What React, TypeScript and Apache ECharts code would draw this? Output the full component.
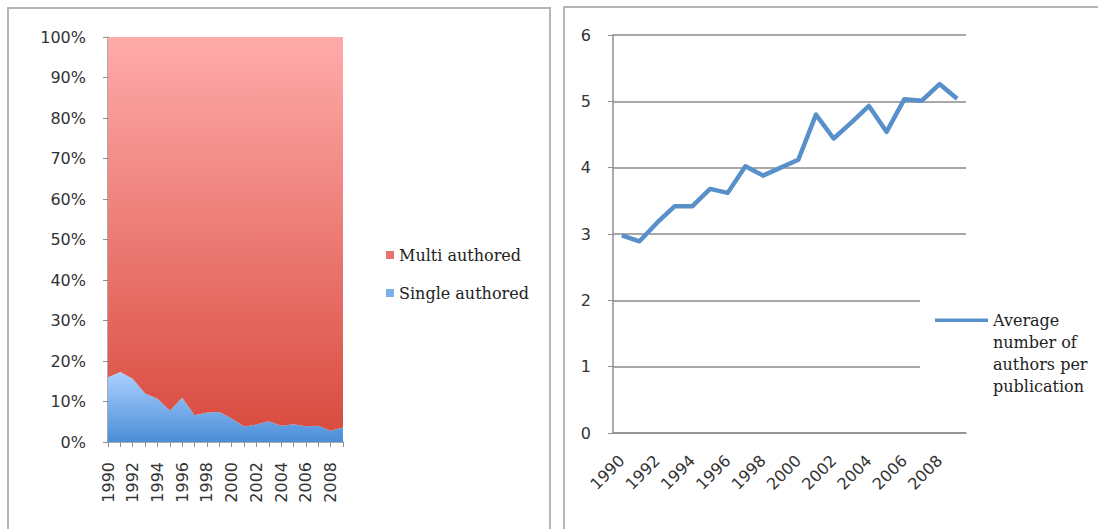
import React, { useEffect, useRef } from "react";
import * as echarts from "echarts";

// Publication years
const years = [
  "1990", "1991", "1992", "1993", "1994", "1995", "1996", "1997", "1998", "1999",
  "2000", "2001", "2002", "2003", "2004", "2005", "2006", "2007", "2008", "2009",
];

// Share of single-authored publications (%)
const singleAuthored = [
  16.0, 17.3, 15.6, 12.0, 10.7, 7.8, 10.9, 6.6, 7.3, 7.4,
  5.8, 3.8, 4.3, 5.1, 4.0, 4.4, 3.9, 4.0, 2.8, 3.6,
];

// Share of multi-authored publications (%)
const multiAuthored = [
  84.0, 82.7, 84.4, 88.0, 89.3, 92.2, 89.1, 93.4, 92.7, 92.6,
  94.2, 96.2, 95.7, 94.9, 96.0, 95.6, 96.1, 96.0, 97.2, 96.4,
];

// Average number of authors per publication
const avgAuthors = [
  2.98, 2.89, 3.17, 3.42, 3.42, 3.68, 3.62, 4.02, 3.88, 4.0,
  4.12, 4.8, 4.44, 4.68, 4.93, 4.54, 5.03, 5.01, 5.26, 5.04,
];

const axisGray = "#8f8f8f";
const gridGray = "#a8a8a8";
const lineBlue = "#5890c9";
const labelFont = "DejaVu Sans";
const legendFont = "DejaVu Serif";

// Legend swatch: a thin bar at the top of a taller box, so the first text line sits beside it
const legendLineIcon = "path://M0,0 L53,0 L53,3.5 L0,3.5 Z M0,69 L0.01,69";

export default function App() {
  const ref = useRef<HTMLDivElement>(null);

  useEffect(() => {
    if (!ref.current) return;
    const chart = echarts.init(ref.current, null, { renderer: "svg" });

    const grad = (top: string, bottom: string) =>
      new echarts.graphic.LinearGradient(0, 0, 0, 1, [
        { offset: 0, color: top },
        { offset: 1, color: bottom },
      ]);

    chart.setOption({
      animation: false,
      backgroundColor: "#ffffff",
      graphic: [
        {
          type: "rect",
          shape: { x: 8, y: 8, width: 542, height: 540 },
          style: { fill: "none", stroke: "#b5b5b5", lineWidth: 2 },
          z: -10,
        },
        {
          type: "rect",
          shape: { x: 564, y: 7, width: 560, height: 540 },
          style: { fill: "none", stroke: "#b5b5b5", lineWidth: 2 },
          z: -10,
        },
      ],
      legend: [
        {
          orient: "vertical",
          left: 386,
          top: 247,
          padding: 0,
          itemWidth: 8,
          itemHeight: 8,
          itemGap: 22,
          icon: "rect",
          textStyle: { fontFamily: legendFont, fontSize: 16, color: "#222" },
          data: [
            { name: "Multi authored", itemStyle: { color: "#e8736c" } },
            { name: "Single authored", itemStyle: { color: "#7eb1ec" } },
          ],
        },
        {
          orient: "vertical",
          left: 920,
          top: 296,
          padding: [13, 15, 0, 15],
          backgroundColor: "#ffffff",
          itemWidth: 53,
          itemHeight: 69,
          icon: legendLineIcon,
          symbolKeepAspect: false,
          itemStyle: { color: lineBlue, borderWidth: 0 },
          data: ["Average number of authors per publication"],
          formatter: () => "Average\nnumber of\nauthors per\npublication",
          textStyle: {
            fontFamily: legendFont,
            fontSize: 16,
            lineHeight: 22,
            color: "#222",
          },
        },
      ],
      grid: [
        { left: 108, top: 37, width: 235, height: 405 },
        { left: 613, top: 35, width: 353, height: 398 },
      ],
      xAxis: [
        {
          type: "category",
          gridIndex: 0,
          data: years,
          boundaryGap: false,
          axisLine: { lineStyle: { color: axisGray, width: 1.5 } },
          axisTick: { interval: 0, length: 5, lineStyle: { color: axisGray } },
          axisLabel: {
            interval: 1,
            rotate: 90,
            margin: 20,
            fontFamily: labelFont,
            fontSize: 16,
            color: "#333",
          },
        },
        {
          type: "category",
          gridIndex: 1,
          data: years,
          boundaryGap: true,
          axisLine: { lineStyle: { color: axisGray, width: 1.5 } },
          axisTick: { interval: 0, length: 5, lineStyle: { color: axisGray } },
          axisLabel: {
            interval: 1,
            rotate: 45,
            margin: 25,
            fontFamily: labelFont,
            fontSize: 16,
            color: "#333",
          },
        },
      ],
      yAxis: [
        {
          type: "value",
          gridIndex: 0,
          min: 0,
          max: 100,
          interval: 10,
          axisLine: { show: true, lineStyle: { color: axisGray, width: 1.5 } },
          axisTick: { show: true, length: 5, lineStyle: { color: axisGray } },
          splitLine: { show: false },
          axisLabel: {
            formatter: "{value}%",
            margin: 22,
            fontFamily: labelFont,
            fontSize: 16,
            color: "#333",
          },
        },
        {
          type: "value",
          gridIndex: 1,
          min: 0,
          max: 6,
          interval: 1,
          axisLine: { show: true, lineStyle: { color: axisGray, width: 1.5 } },
          axisTick: { show: true, length: 5, lineStyle: { color: axisGray } },
          splitLine: { show: true, lineStyle: { color: gridGray, width: 2 } },
          axisLabel: {
            margin: 22,
            fontFamily: labelFont,
            fontSize: 16,
            color: "#333",
          },
        },
      ],
      series: [
        {
          name: "Single authored",
          type: "line",
          xAxisIndex: 0,
          yAxisIndex: 0,
          stack: "share",
          data: singleAuthored,
          symbol: "none",
          itemStyle: { color: "#7eb1ec" },
          lineStyle: { width: 0 },
          areaStyle: { color: grad("#acd0ff", "#4a8ed8"), opacity: 1 },
        },
        {
          name: "Multi authored",
          type: "line",
          xAxisIndex: 0,
          yAxisIndex: 0,
          stack: "share",
          data: multiAuthored,
          symbol: "none",
          itemStyle: { color: "#e8736c" },
          lineStyle: { width: 0 },
          areaStyle: { color: grad("#ffabaa", "#d94c40"), opacity: 1 },
        },
        {
          name: "Average number of authors per publication",
          type: "line",
          xAxisIndex: 1,
          yAxisIndex: 1,
          data: avgAuthors,
          symbol: "none",
          itemStyle: { color: lineBlue },
          lineStyle: { width: 4.5, color: lineBlue, join: "round" },
          z: 5,
        },
      ],
    });

    return () => chart.dispose();
  }, []);

  return (
    <div
      ref={ref}
      style={{ position: "fixed", left: 0, top: 0, width: 1098, height: 529 }}
    />
  );
}
